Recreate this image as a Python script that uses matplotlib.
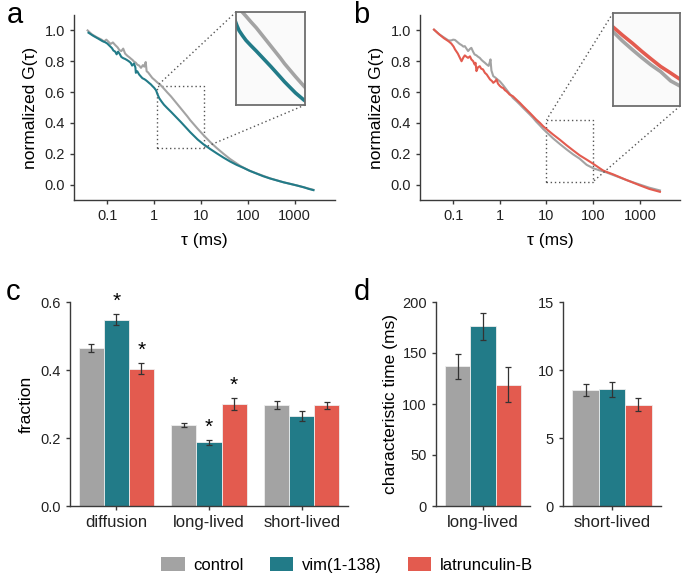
import matplotlib.pyplot as plt
import numpy as np
from matplotlib.patches import Patch
from mpl_toolkits.axes_grid1.inset_locator import mark_inset

plt.rcParams['font.family'] = ['Liberation Sans', 'DejaVu Sans']

c_ctrl = '#a3a3a3'
c_vim = '#227b88'
c_lat = '#e35b4f'
spine_col = '#3a3a3a'

# curves: log10(tau / ms) and normalized G(tau)
a_ctrl_logt = [-1.42, -1.33, -1.22, -1.12, -1.07, -1.02, -0.97, -0.93, -0.88, -0.83, -0.78, -0.74, -0.70,
               -0.66, -0.62, -0.57, -0.53, -0.50, -0.46, -0.43, -0.39, -0.36, -0.32, -0.28, -0.24, -0.21,
               -0.18, -0.16, -0.13, -0.09, -0.04, 0.02, 0.07, 0.14, 0.21, 0.28, 0.36, 0.43, 0.50, 0.57,
               0.64, 0.71, 0.77, 0.85, 0.93, 1.05, 1.20, 1.34, 1.48, 1.62, 1.84, 2.02, 2.19, 2.48, 2.76,
               3.05, 3.25, 3.40]
a_ctrl_g = [1.000, 0.975, 0.955, 0.940, 0.928, 0.940, 0.925, 0.912, 0.922, 0.905, 0.890, 0.872, 0.866,
            0.882, 0.850, 0.835, 0.826, 0.818, 0.808, 0.798, 0.790, 0.778, 0.772, 0.757, 0.775, 0.765,
            0.795, 0.735, 0.728, 0.712, 0.692, 0.676, 0.662, 0.645, 0.622, 0.598, 0.572, 0.546, 0.520,
            0.494, 0.468, 0.442, 0.418, 0.390, 0.362, 0.322, 0.275, 0.236, 0.200, 0.166, 0.121, 0.092,
            0.072, 0.040, 0.015, -0.006, -0.022, -0.034]

a_vim_logt = [-1.40, -1.30, -1.20, -1.10, -1.05, -1.00, -0.95, -0.90, -0.87, -0.83, -0.80, -0.77, -0.74,
              -0.70, -0.66, -0.62, -0.58, -0.54, -0.50, -0.47, -0.43, -0.40, -0.39, -0.36, -0.32, -0.28,
              -0.25, -0.21, -0.18, -0.14, -0.11, -0.07, -0.04, 0.00, 0.04, 0.08, 0.11, 0.16, 0.21, 0.28,
              0.36, 0.43, 0.50, 0.57, 0.64, 0.71, 0.77, 0.85, 0.93, 1.05, 1.20, 1.34, 1.48, 1.62, 1.76,
              1.91, 2.05, 2.19, 2.33, 2.48, 2.62, 2.76, 2.90, 3.05, 3.20, 3.30, 3.40]
a_vim_g = [0.985, 0.965, 0.948, 0.930, 0.924, 0.915, 0.900, 0.885, 0.870, 0.862, 0.845, 0.862, 0.850,
           0.828, 0.820, 0.815, 0.808, 0.800, 0.790, 0.772, 0.785, 0.760, 0.725, 0.735, 0.714, 0.700,
           0.690, 0.684, 0.678, 0.668, 0.660, 0.650, 0.640, 0.628, 0.612, 0.580, 0.560, 0.538, 0.518,
           0.496, 0.472, 0.450, 0.428, 0.406, 0.383, 0.360, 0.340, 0.316, 0.292, 0.262, 0.230, 0.202,
           0.175, 0.150, 0.128, 0.108, 0.088, 0.071, 0.054, 0.039, 0.027, 0.015, 0.005, -0.006, -0.018,
           -0.028, -0.036]

b_ctrl_logt = [-1.41, -1.30, -1.20, -1.10, -1.04, -1.00, -0.96, -0.91, -0.86, -0.82, -0.78, -0.75, -0.71,
               -0.68, -0.64, -0.61, -0.57, -0.54, -0.50, -0.47, -0.43, -0.39, -0.36, -0.32, -0.28, -0.24,
               -0.21, -0.20, -0.18, -0.14, -0.10, -0.05, 0.00, 0.07, 0.14, 0.21, 0.28, 0.36, 0.43, 0.50,
               0.57, 0.64, 0.71, 0.78, 0.86, 0.93, 1.00, 1.14, 1.29, 1.43, 1.57, 1.71, 1.86, 2.00, 2.14,
               2.21, 2.29, 2.43, 2.57, 2.71, 2.86, 3.00, 3.20, 3.43]
b_ctrl_g = [1.005, 0.975, 0.955, 0.935, 0.935, 0.940, 0.938, 0.925, 0.912, 0.905, 0.895, 0.898, 0.880,
            0.866, 0.880, 0.887, 0.860, 0.844, 0.838, 0.830, 0.822, 0.808, 0.800, 0.790, 0.779, 0.770,
            0.800, 0.812, 0.740, 0.703, 0.695, 0.682, 0.670, 0.645, 0.617, 0.590, 0.562, 0.540, 0.519,
            0.497, 0.476, 0.455, 0.433, 0.408, 0.383, 0.360, 0.340, 0.300, 0.262, 0.228, 0.196, 0.168,
            0.128, 0.106, 0.092, 0.086, 0.078, 0.062, 0.046, 0.030, 0.014, 0.000, -0.020, -0.038]

b_lat_logt = [-1.41, -1.30, -1.20, -1.10, -1.04, -0.99, -0.96, -0.90, -0.86, -0.82, -0.78, -0.75, -0.71,
              -0.68, -0.64, -0.61, -0.57, -0.54, -0.52, -0.50, -0.47, -0.43, -0.40, -0.36, -0.32, -0.28,
              -0.25, -0.21, -0.17, -0.14, -0.10, -0.07, -0.04, 0.00, 0.04, 0.07, 0.11, 0.14, 0.18, 0.21,
              0.25, 0.28, 0.36, 0.43, 0.50, 0.57, 0.64, 0.71, 0.78, 0.86, 0.93, 1.00, 1.14, 1.29, 1.43,
              1.57, 1.71, 1.86, 2.00, 2.14, 2.21, 2.29, 2.43, 2.57, 2.71, 2.86, 3.00, 3.20, 3.43]
b_lat_g = [1.005, 0.975, 0.950, 0.930, 0.915, 0.895, 0.877, 0.850, 0.825, 0.800, 0.825, 0.838, 0.828,
           0.822, 0.832, 0.812, 0.800, 0.779, 0.790, 0.736, 0.760, 0.768, 0.752, 0.747, 0.725, 0.714,
           0.700, 0.682, 0.672, 0.660, 0.670, 0.682, 0.655, 0.640, 0.630, 0.627, 0.612, 0.606, 0.594,
           0.584, 0.578, 0.573, 0.550, 0.530, 0.508, 0.487, 0.466, 0.444, 0.422, 0.400, 0.378, 0.360,
           0.325, 0.290, 0.255, 0.222, 0.190, 0.162, 0.135, 0.106, 0.092, 0.082, 0.066, 0.048, 0.030,
           0.012, -0.005, -0.028, -0.047]

# bar panels
groups_c = ['diffusion', 'long-lived', 'short-lived']
frac_ctrl = [0.465, 0.237, 0.298]
frac_ctrl_err = [0.012, 0.006, 0.012]
frac_vim = [0.548, 0.187, 0.264]
frac_vim_err = [0.017, 0.007, 0.014]
frac_lat = [0.404, 0.300, 0.296]
frac_lat_err = [0.017, 0.018, 0.011]
# (condition index, group index) pairs marked with *
frac_signif = [(1, 0), (2, 0), (1, 1), (2, 1)]

time_long = [137, 176, 119]
time_long_err = [12, 13, 17]
time_short = [8.55, 8.6, 7.45]
time_short_err = [0.45, 0.55, 0.5]

conditions = ['control', 'vim(1-138)', 'latrunculin-B']
colors = [c_ctrl, c_vim, c_lat]

W, H = 685, 577
fig = plt.figure(figsize=(W / 100, H / 100), dpi=100)


def box(x0, y0, x1, y1):
    # pixel box (top-left origin) -> figure fraction rect
    return [x0 / W, 1 - y1 / H, (x1 - x0) / W, (y1 - y0) / H]


def style(ax):
    for s in ['top', 'right']:
        ax.spines[s].set_visible(False)
    for s in ['left', 'bottom']:
        ax.spines[s].set_color(spine_col)
        ax.spines[s].set_linewidth(1.0)
    ax.tick_params(length=3, width=1, color=spine_col, labelsize=10.5, labelcolor='#222222')


def curve_panel(rect, series, zoom_x, zoom_y, inset_rect, letter, letter_xy):
    ax = fig.add_axes(box(*rect))
    style(ax)
    for logt, g, col in series:
        ax.plot(10 ** np.array(logt), g, color=col, lw=1.5)
    ax.set_xscale('log')
    ax.set_xlim(10 ** -1.71, 10 ** 3.86)
    ax.set_ylim(-0.1, 1.1)
    ax.set_xticks([0.1, 1, 10, 100, 1000])
    ax.set_xticklabels(['0.1', '1', '10', '100', '1000'])
    ax.xaxis.set_minor_locator(plt.NullLocator())
    ax.set_yticks([0, 0.2, 0.4, 0.6, 0.8, 1.0])
    ax.set_yticklabels(['0.0', '0.2', '0.4', '0.6', '0.8', '1.0'])
    ax.set_xlabel('τ (ms)', fontsize=12.5, labelpad=7)
    ax.set_ylabel('normalized G(τ)', fontsize=12.5, labelpad=5)

    axins = fig.add_axes(box(*inset_rect))
    for logt, g, col in series:
        axins.plot(10 ** np.array(logt), g, color=col, lw=2.6)
    axins.set_xscale('log')
    axins.set_xlim(*zoom_x)
    axins.set_ylim(*zoom_y)
    axins.set_xticks([])
    axins.set_yticks([])
    axins.xaxis.set_minor_locator(plt.NullLocator())
    axins.set_facecolor('#fafafa')
    for s in axins.spines.values():
        s.set_color('#6e6e6e')
        s.set_linewidth(1.3)
    mark_inset(ax, axins, loc1=2, loc2=4, fc='none', ec='#555555', ls=(0, (1, 2)), lw=1.0)
    fig.text(letter_xy[0] / W, 1 - letter_xy[1] / H, letter, fontsize=21, ha='center', va='baseline')
    return ax


curve_panel((74, 15, 335, 200),
            [(a_ctrl_logt, a_ctrl_g, c_ctrl), (a_vim_logt, a_vim_g, c_vim)],
            (1.16, 11.7), (0.24, 0.64), (236, 12, 305, 105), 'a', (15, 23))
curve_panel((420, 15, 680, 200),
            [(b_ctrl_logt, b_ctrl_g, c_ctrl), (b_lat_logt, b_lat_g, c_lat)],
            (10, 100), (0.02, 0.42), (613, 13, 680, 106), 'b', (361, 23))

# panel c
bw = 0.27
axc = fig.add_axes(box(70, 302, 348, 506))
style(axc)
x = np.arange(len(groups_c))
vals = [frac_ctrl, frac_vim, frac_lat]
errs = [frac_ctrl_err, frac_vim_err, frac_lat_err]
for i in range(3):
    axc.bar(x + (i - 1) * bw, vals[i], bw, color=colors[i], edgecolor='#eeeeee', lw=0.6,
            yerr=errs[i], error_kw=dict(ecolor='#333333', elinewidth=0.9, capsize=2, capthick=0.9))
for i, j in frac_signif:
    axc.text(j + (i - 1) * bw, vals[i][j] + errs[i][j] + 0.008, '*', ha='center', va='bottom', fontsize=15)
axc.set_xlim(-0.5, 2.5)
axc.set_ylim(0, 0.6)
axc.set_yticks([0, 0.2, 0.4, 0.6])
axc.set_yticklabels(['0.0', '0.2', '0.4', '0.6'])
axc.set_xticks(x)
axc.set_xticklabels(groups_c)
axc.tick_params(axis='x', labelsize=12)
axc.set_ylabel('fraction', fontsize=12.5, labelpad=5)
fig.text(13 / W, 1 - 300 / H, 'c', fontsize=21, ha='center', va='baseline')

# panel d
for rect, v, e, lim, ticks, name in [((436, 302, 530, 506), time_long, time_long_err, 200,
                                       [0, 50, 100, 150, 200], 'long-lived'),
                                      ((563, 302, 661, 506), time_short, time_short_err, 15,
                                       [0, 5, 10, 15], 'short-lived')]:
    axd = fig.add_axes(box(*rect))
    style(axd)
    for i in range(3):
        axd.bar((i - 1) * bw, v[i], bw, color=colors[i], edgecolor='#eeeeee', lw=0.6,
                yerr=e[i], error_kw=dict(ecolor='#333333', elinewidth=0.9, capsize=2, capthick=0.9))
    axd.set_xlim(-0.5, 0.5)
    axd.set_ylim(0, lim)
    axd.set_yticks(ticks)
    axd.set_xticks([0])
    axd.set_xticklabels([name])
    axd.tick_params(axis='x', labelsize=12)
    if name == 'long-lived':
        axd.set_ylabel('characteristic time (ms)', fontsize=12.5, labelpad=3)
fig.text(362 / W, 1 - 300 / H, 'd', fontsize=21, ha='center', va='baseline')

handles = [Patch(facecolor=c, edgecolor='none') for c in colors]
fig.legend(handles, conditions, loc='center', bbox_to_anchor=(347 / W, 1 - 565 / H), ncol=3,
           frameon=False, fontsize=12, handlelength=1.4, handleheight=0.95, handletextpad=0.5,
           columnspacing=1.6)

fig.savefig('out.png', dpi=100)
